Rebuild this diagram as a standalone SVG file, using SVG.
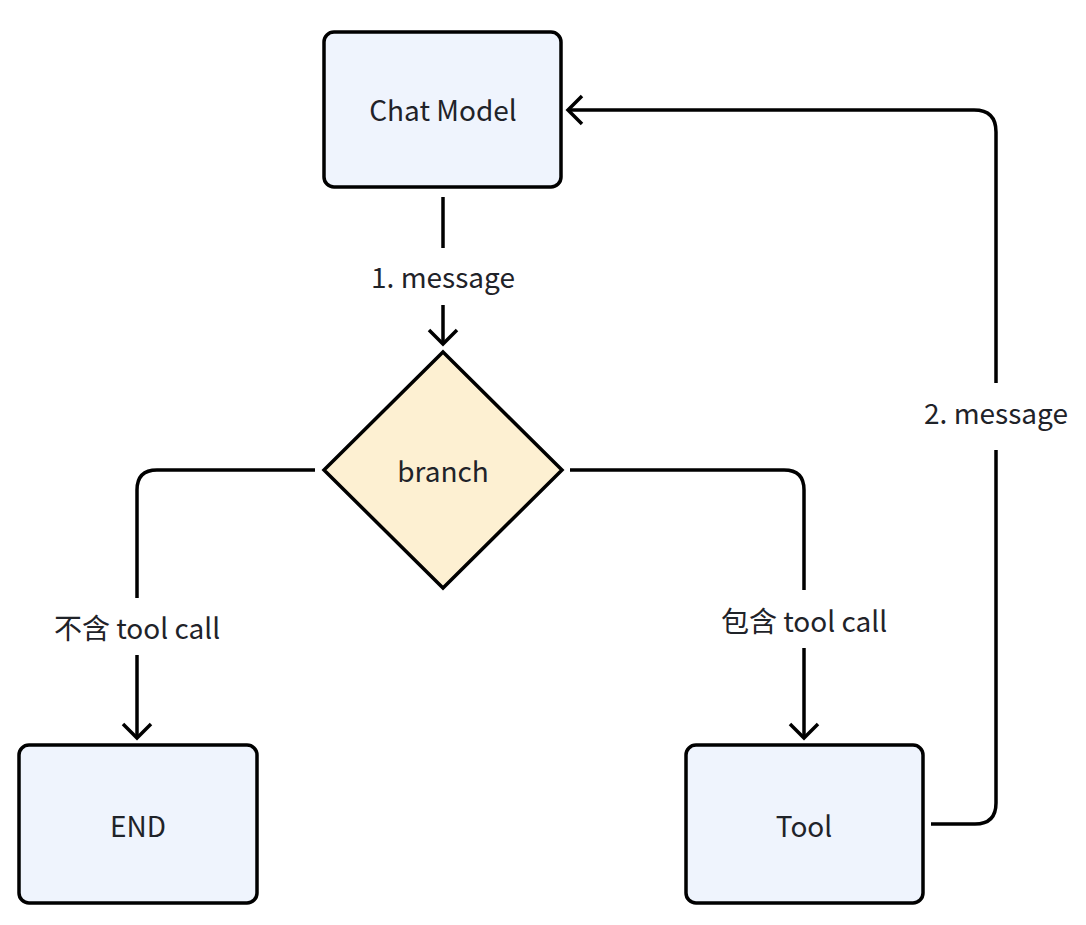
<svg xmlns="http://www.w3.org/2000/svg" width="1086" height="925" viewBox="0 0 1086 925">
<style>
.box{fill:#eff4fd;stroke:#000;stroke-width:3.5}
.dia{fill:#fdf0d2;stroke:#000;stroke-width:3.5}
.lbl{font-family:"Noto Sans CJK SC","Noto Sans",sans-serif;font-size:28px;fill:#1f2329;text-anchor:middle}
.con{fill:none;stroke:#000;stroke-width:3.5}
</style>
<defs>
<marker id="arr" markerUnits="userSpaceOnUse" markerWidth="40" markerHeight="40" viewBox="-20 -20 40 40" refX="-1" refY="0" orient="auto">
<path d="M-14,-14 L0,0 L-14,14" fill="none" stroke="#000" stroke-width="3.5"/>
</marker>
</defs>
<rect width="1086" height="925" fill="#fff"/>
<g id="connectors">
<path class="con" d="M443,197 V248"/>
<path class="con" d="M443,305 V343" marker-end="url(#arr)"/>
<text class="lbl" x="443" y="288">1. message</text>
<path class="con" d="M315,470 H157 Q137,470 137,490 V598"/>
<path class="con" d="M137,655 V737" marker-end="url(#arr)"/>
<text class="lbl" x="137" y="639">不含 tool call</text>
<path class="con" d="M570,470 H784 Q804,470 804,490 V590"/>
<path class="con" d="M804,648 V737" marker-end="url(#arr)"/>
<text class="lbl" x="804" y="632">包含 tool call</text>
<path class="con" d="M931,824 H975 Q996,824 996,803 V450"/>
<path class="con" d="M996,383 V132 Q996,110 974,110 H569" marker-end="url(#arr)"/>
<text class="lbl" x="996" y="424">2. message</text>
</g>
<g id="chat-model">
<rect class="box" x="324" y="32" width="237" height="155" rx="10"/>
<text class="lbl" x="443" y="121">Chat Model</text>
</g>
<g id="branch">
<path class="dia" d="M443,352 L562,470 L443,588 L324,470 Z"/>
<text class="lbl" x="443" y="482">branch</text>
</g>
<g id="end">
<rect class="box" x="19" y="745" width="238" height="158" rx="10"/>
<text class="lbl" x="138" y="837">END</text>
</g>
<g id="tool">
<rect class="box" x="686" y="745" width="237" height="158" rx="10"/>
<text class="lbl" x="804" y="837">Tool</text>
</g>
</svg>
